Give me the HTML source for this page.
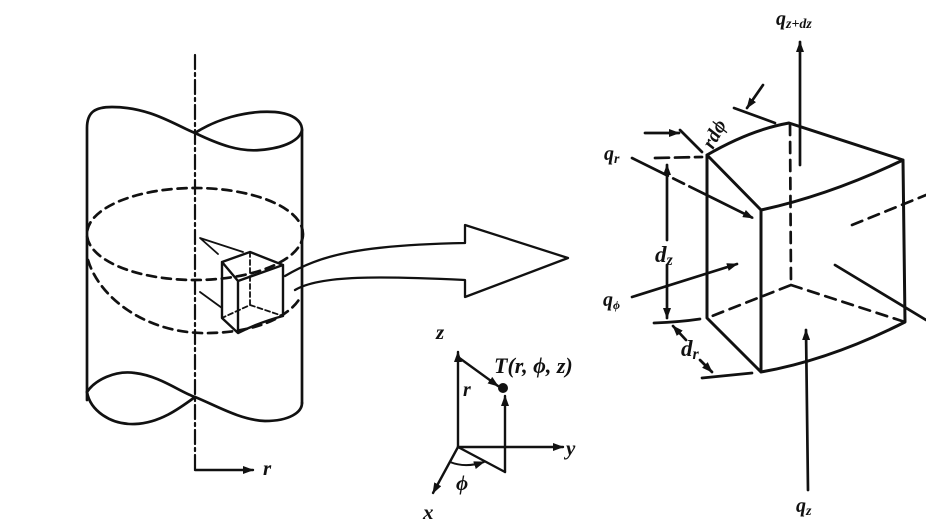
<!DOCTYPE html>
<html><head><meta charset="utf-8"><style>
html,body{margin:0;padding:0;background:#fff;}
svg{display:block;}
text{font-family:"Liberation Serif",serif;font-style:italic;fill:#111;font-weight:bold;}
</style></head><body>
<svg width="926" height="522" viewBox="0 0 926 522" xmlns="http://www.w3.org/2000/svg">
<defs>
<marker id="ah" markerWidth="11" markerHeight="8" refX="10" refY="4" orient="auto" markerUnits="userSpaceOnUse">
<path d="M0,0 L11,4 L0,8 Z" fill="#111"/></marker>
</defs>
<g fill="none" stroke="#111" stroke-width="2.7" stroke-linecap="round" stroke-linejoin="round">
<!-- cylinder -->
<path d="M87,400 L87,128 C87,112 95,107 112,107 C150,107 175,125 195,133 C215,120 245,110 275,112 C295,114 302,122 302,130 L302,403"/>
<path d="M195,133 C220,145 240,152 260,150 C285,148 300,140 302,130"/>
<path d="M87,392 C95,380 115,370 135,373 C160,376 180,392 195,397 C215,405 240,420 265,421 C290,421 302,412 302,403"/>
<path d="M87,392 C90,410 110,425 135,424 C160,423 180,408 195,397"/>
<!-- dashed ellipses -->
<ellipse cx="195" cy="234" rx="108" ry="46" stroke-dasharray="9,6"/>
<path d="M88,260 C100,300 150,335 210,333 C260,332 290,315 300,298" stroke-dasharray="9,6"/>
<!-- axis -->
<path d="M195,55 L195,470" stroke-width="2.2" stroke-dasharray="14,4,3,4"/>
<path d="M195,470 L253,470" stroke-width="2.4" marker-end="url(#ah)"/>
<!-- small cube -->
<path d="M222,262 L250,252 L283,265 L238,281 Z M222,262 L222,318 L238,333 L238,281 M283,265 L283,316 Q260,322 238,333" stroke-width="2.4"/>
<path d="M250,252 L250,305 L222,318 M250,305 L283,316" stroke-width="1.8" stroke-dasharray="5,3"/>
<path d="M243,252 L200,238 L218,254 M222,308 L200,292" stroke-width="1.8"/>
<!-- big arrow -->
<path d="M285,276 C320,255 360,245 465,243 L465,225 L568,258 L465,297 L465,280 C380,276 320,275 295,290" stroke-width="2.3"/>
<!-- coordinate system -->
<g stroke-width="2.4">
<path d="M458,447 L458,352" marker-end="url(#ah)"/>
<path d="M458,447 L563,447" marker-end="url(#ah)"/>
<path d="M458,447 L433,493" marker-end="url(#ah)"/>
<path d="M458,357 L498,386" marker-end="url(#ah)"/>
<path d="M505,472 L505,396" marker-end="url(#ah)"/>
<path d="M458,447 L505,472"/>
<path d="M450,462 C460,466 472,466 484,462" stroke-width="2" marker-end="url(#ah)"/>
</g>
<circle cx="503" cy="388" r="5" fill="#111" stroke="none"/>
<!-- big block -->
<path d="M707,155 Q750,130 789,123 L903,160 Q830,195 761,210 Z M707,155 L761,210 L761,372 L707,318 Z M903,160 L905,322 Q830,360 761,372" stroke-width="3"/>
<path d="M790,124 L791,285 L707,318 M791,285 L905,322" stroke-dasharray="11,7"/>
<path d="M852,225 L926,195" stroke-dasharray="11,7"/>
<path d="M835,265 L926,320"/>
<path d="M800,165 L800,42" marker-end="url(#ah)"/>
<path d="M808,490 L806,330" marker-end="url(#ah)"/>
<path d="M734,108 L775,123"/>
<path d="M763,85 L747,108" marker-end="url(#ah)"/>
<path d="M680,130 L702,152"/>
<path d="M645,133 L679,133" marker-end="url(#ah)"/>
<path d="M632,158 L753,218" stroke-dasharray="40,6,12,6,30,0" marker-end="url(#ah)"/>
<path d="M655,158 L702,157" stroke-dasharray="14,6"/>
<path d="M667,240 L667,165" marker-end="url(#ah)"/>
<path d="M667,265 L667,318" marker-end="url(#ah)"/>
<path d="M654,323 Q680,322 700,319"/>
<path d="M632,297 L737,264" marker-end="url(#ah)"/>
<path d="M686,340 L673,326" marker-end="url(#ah)"/>
<path d="M700,360 L712,372" marker-end="url(#ah)"/>
<path d="M702,378 L752,373"/>
</g>
<text x="436" y="339" font-size="21">z</text>
<text x="566" y="455" font-size="21">y</text>
<text x="423" y="519" font-size="21">x</text>
<text x="463" y="396" font-size="20">r</text>
<text x="456" y="490" font-size="21">ϕ</text>
<text x="494" y="373" font-size="22">T(r, ϕ, z)</text>
<text x="263" y="475" font-size="21">r</text>
<text x="776" y="25" font-size="20">q<tspan font-size="14" dy="3">z+dz</tspan></text>
<text x="796" y="512" font-size="20">q<tspan font-size="14" dy="3">z</tspan></text>
<text x="604" y="160" font-size="20">q<tspan font-size="14" dy="3">r</tspan></text>
<text x="603" y="306" font-size="20">q<tspan font-size="12" dy="3">ϕ</tspan></text>
<text x="655" y="262" font-size="23">d<tspan font-size="16" dy="3">z</tspan></text>
<text x="681" y="356" font-size="23">d<tspan font-size="16" dy="3">r</tspan></text>
<text x="0" y="0" font-size="20" transform="translate(713,150) rotate(-62)">rdϕ</text>
</svg>
</body></html>
